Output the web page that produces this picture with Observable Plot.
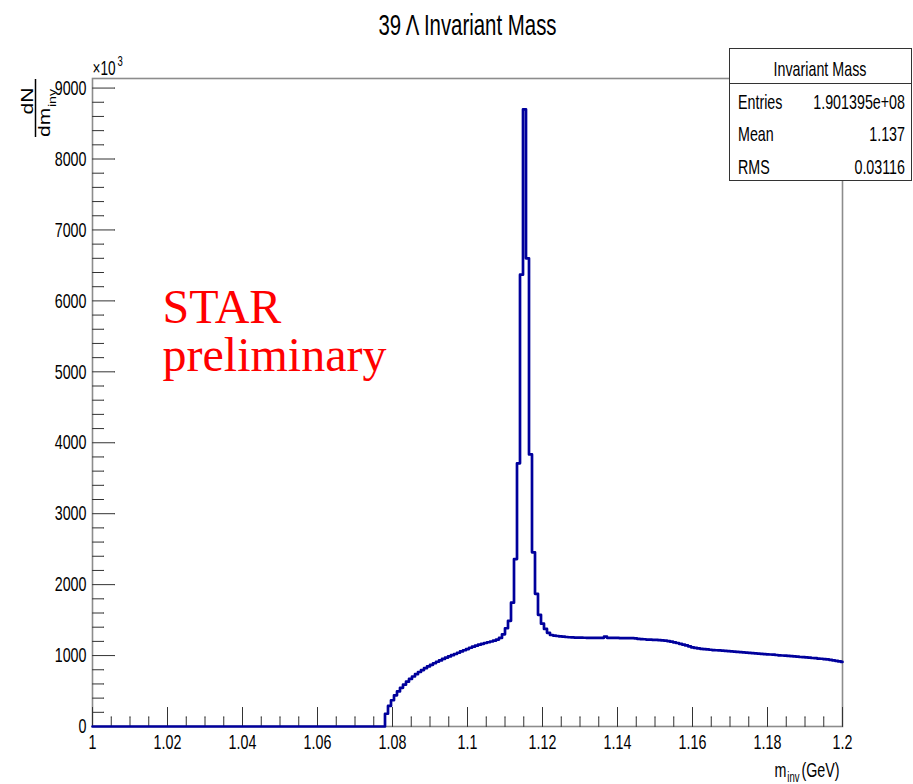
<!DOCTYPE html>
<html><head><meta charset="utf-8">
<script src="https://cdn.jsdelivr.net/npm/d3@7"></script>
<script src="https://cdn.jsdelivr.net/npm/@observablehq/plot@0.6"></script>
<style>
html,body{margin:0;padding:0;background:#fff;}
#chart svg{display:block;}
</style></head><body><div id="chart"></div>
<script>
const title = "39 Λ Invariant Mass";
const binStart = 1.0004;
const binWidth = 0.0008;
// histogram contents per bin (units of 10^3)
const counts = [
  0,0,0,0,0,0,0,0,0,0,
  0,0,0,0,0,0,0,0,0,0,
  0,0,0,0,0,0,0,0,0,0,
  0,0,0,0,0,0,0,0,0,0,
  0,0,0,0,0,0,0,0,0,0,
  0,0,0,0,0,0,0,0,0,0,
  0,0,0,0,0,0,0,0,0,0,
  0,0,0,0,0,0,0,0,0,0,
  0,0,0,0,0,0,0,0,0,0,
  0,0,0,0,0,0,0,
  180,290,370,440,495,545,590,632,670,705,738,768,795,822,847,870,892,913,932,952,
  970,988,1005,1022,1040,1058,1075,1092,1110,1125,1140,1153,1165,1177,1188,1198,1210,1225,1248,
  1300,1385,1490,1745,2360,3710,6370,8700,6600,3835,2455,1870,1575,1450,1375,1320,1290,
  1282,1276,1270,1266,1262,1258,1256,1254,1253,1252,1251,1250,1250,1249,1250,1249,1250,1266,1250,1249,
  1248,1248,1247,1247,1246,1246,1245,1243,1236,1232,1230,1226,1224,1222,1220,1217,1214,1210,1204,1196,
  1187,1177,1166,1155,1143,1130,1116,1108,1100,1095,1090,1086,1082,1078,1075,1072,1070,1067,1063,1060,
  1056,1052,1049,1046,1042,1039,1035,1032,1028,1025,1021,1018,1015,1012,1008,1004,1001,998,995,991,
  988,984,980,977,974,970,966,963,958,955,950,945,940,933,926,918,910
];
const xMajorTicks = [1, 1.02, 1.04, 1.06, 1.08, 1.1, 1.12, 1.14, 1.16, 1.18, 1.2];
const xTickLabels = ["1", "1.02", "1.04", "1.06", "1.08", "1.1", "1.12", "1.14", "1.16", "1.18", "1.2"];
const yMajorTicks = [0, 1000, 2000, 3000, 4000, 5000, 6000, 7000, 8000, 9000];
const yTickLabels = ["0", "1000", "2000", "3000", "4000", "5000", "6000", "7000", "8000", "9000"];
const xMinorTicks = d3.range(0, 41).filter(k => k % 4 !== 0).map(k => 1 + k * 0.005);
const yMinorTicks = d3.range(0, 46).filter(k => k % 5 !== 0).map(k => k * 200);
const statsTitle = "Invariant Mass";
const statsLabels = ["Entries", "Mean", "RMS"];
const statsValues = ["1.901395e+08", "1.137", "0.03116"];
const starText = ["STAR", "preliminary"];

const points = [{m: 1.0, n: 0}];
counts.forEach((c, i) => points.push({m: binStart + i * binWidth, n: c}));
points.push({m: 1.2, n: counts[counts.length - 1]});

const xLab = new Map(xMajorTicks.map((d, i) => [d, xTickLabels[i]]));
const yLab = new Map(yMajorTicks.map((d, i) => [d, yTickLabels[i]]));
const FONT = "'Liberation Sans', Arial, Helvetica, sans-serif";
const SERIF = "'Liberation Serif', 'Times New Roman', serif";

const plot = Plot.plot({
  width: 913, height: 784,
  marginTop: 78, marginBottom: 58, marginLeft: 92, marginRight: 71,
  x: {domain: [1, 1.2]},
  y: {domain: [0, 9135]},
  style: {fontFamily: FONT, background: "#fff", color: "#000"},
  marks: [
    Plot.frame({stroke: "#8c8c8c", strokeWidth: 1.6}),
    Plot.vector(yMajorTicks, {x: () => 1, y: d => d, rotate: 90, length: 22, anchor: "start", r: 0, stroke: "#333", strokeWidth: 1}),
    Plot.vector(yMinorTicks, {x: () => 1, y: d => d, rotate: 90, length: 11, anchor: "start", r: 0, stroke: "#333", strokeWidth: 1}),
    Plot.vector(xMajorTicks, {x: d => d, y: () => 0, rotate: 0, length: 19, anchor: "start", r: 0, stroke: "#333", strokeWidth: 1}),
    Plot.vector(xMinorTicks, {x: d => d, y: () => 0, rotate: 0, length: 9.5, anchor: "start", r: 0, stroke: "#333", strokeWidth: 1}),
    Plot.axisX({ticks: xMajorTicks, tickSize: 0, tickPadding: 8, fontSize: 21, label: null, tickFormat: d => xLab.get(d)}),
    Plot.axisY({ticks: yMajorTicks, tickSize: 0, tickPadding: 6, fontSize: 21, label: null, tickFormat: d => yLab.get(d)}),
    Plot.line(points, {x: "m", y: "n", curve: "step-after", stroke: "#00009c", strokeWidth: 2.7}),
    Plot.text([title], {text: d => d, frameAnchor: "top", dy: -44, lineAnchor: "bottom", fontSize: 30, fill: "#000"}),
    Plot.text(["×10"], {text: d => d, frameAnchor: "top-left", textAnchor: "start", dy: -4, lineAnchor: "bottom", fontSize: 20, fill: "#000"}),
    Plot.text(["3"], {text: d => d, frameAnchor: "top-left", textAnchor: "start", dx: 25, dy: -13, lineAnchor: "bottom", fontSize: 14, fill: "#000"}),
    Plot.text([starText[0]], {text: d => d, frameAnchor: "top-left", textAnchor: "start", dx: 70, dy: 244, lineAnchor: "bottom", fontSize: 48, fontFamily: SERIF, fill: "#ff0000"}),
    Plot.text([starText[1]], {text: d => d, frameAnchor: "top-left", textAnchor: "start", dx: 70, dy: 292, lineAnchor: "bottom", fontSize: 48, fontFamily: SERIF, fill: "#ff0000"}),
    Plot.text(["(GeV)"], {text: d => d, frameAnchor: "bottom-right", textAnchor: "end", dx: -3, dy: 50, lineAnchor: "bottom", fontSize: 21, fill: "#000"}),
    Plot.text(["inv"], {text: d => d, frameAnchor: "bottom-right", textAnchor: "end", dx: -43, dy: 55, lineAnchor: "bottom", fontSize: 14, fill: "#000"}),
    Plot.text(["m"], {text: d => d, frameAnchor: "bottom-right", textAnchor: "end", dx: -56, dy: 50, lineAnchor: "bottom", fontSize: 21, fill: "#000"})
  ]
});
document.getElementById("chart").append(plot);

const svg = d3.select(plot);

// stats box
const sb = svg.append("g").attr("class", "cond").attr("font-family", FONT).attr("fill", "#000").attr("text-anchor", "start");
sb.append("rect").attr("x", 729.5).attr("y", 48.5).attr("width", 182).attr("height", 132)
  .attr("fill", "#fff").attr("stroke", "#333").attr("stroke-width", 1);
sb.append("line").attr("x1", 729.5).attr("x2", 911.5).attr("y1", 83.5).attr("y2", 83.5)
  .attr("stroke", "#333").attr("stroke-width", 1);
sb.append("text").attr("x", 820).attr("y", 76).attr("text-anchor", "middle").attr("font-size", 21).text(statsTitle);
statsLabels.forEach((lab, i) => {
  const yb = [109, 141, 174][i];
  sb.append("text").attr("x", 738).attr("y", yb).attr("text-anchor", "start").attr("font-size", 21).text(lab);
  sb.append("text").attr("x", 905).attr("y", yb).attr("text-anchor", "end").attr("font-size", 21).text(statsValues[i]);
});

// y axis title: dN / dm_inv (rotated)
const yl = svg.append("g").attr("font-family", FONT).attr("fill", "#000");
yl.append("text").attr("transform", "translate(32.5,101) rotate(-90) scale(1,0.78)")
  .attr("text-anchor", "middle").attr("font-size", 21).text("dN");
yl.append("line").attr("x1", 35.5).attr("x2", 35.5).attr("y1", 79).attr("y2", 137)
  .attr("stroke", "#000").attr("stroke-width", 1.5);
yl.append("text").attr("transform", "translate(50,137) rotate(-90) scale(1,0.75)")
  .attr("text-anchor", "start").attr("font-size", 21).text("dm");
yl.append("text").attr("transform", "translate(56,107) rotate(-90) scale(1,0.75)")
  .attr("text-anchor", "start").attr("font-size", 14).text("inv");

// condensed look of the original text
function squeeze(sel, k) {
  sel.each(function () {
    const L = this.getComputedTextLength();
    if (L > 0) {
      this.setAttribute("textLength", (L * k).toFixed(2));
      this.setAttribute("lengthAdjust", "spacingAndGlyphs");
    }
  });
}
squeeze(svg.selectAll('g.cond text'), 0.68);
squeeze(svg.selectAll('g[aria-label="text"] text').filter(function () { return !starText.includes(this.textContent); }), 0.68);
squeeze(svg.selectAll('g[aria-label="x-axis tick label"] text, g[aria-label="y-axis tick label"] text'), 0.68);
</script>
</body></html>
